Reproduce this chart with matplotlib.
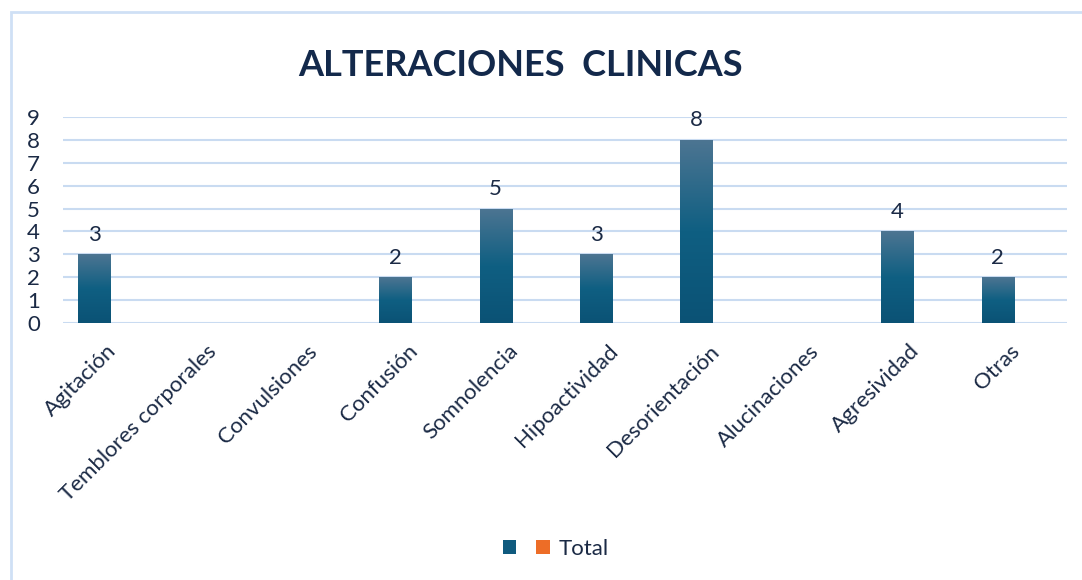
import numpy as np
import matplotlib
matplotlib.use("Agg")
import matplotlib.pyplot as plt
from matplotlib.patches import Rectangle, Patch
from matplotlib.colors import LinearSegmentedColormap

categories = ["Agitación", "Temblores corporales", "Convulsiones", "Confusión",
              "Somnolencia", "Hipoactividad", "Desorientación", "Alucinaciones",
              "Agresividad", "Otras"]
values = [3, 0, 0, 2, 5, 3, 8, 0, 4, 2]
second_series = [0, 0, 0, 0, 0, 0, 0, 0, 0, 0]
yticks = [0, 1, 2, 3, 4, 5, 6, 7, 8, 9]
title = "ALTERACIONES  CLINICAS"
legend_labels = ["", "Total"]

plt.rcParams['font.family'] = ['Lato', 'DejaVu Sans']
text_color = "#1b2a45"
grid_color = "#c9dbf1"

W, H = 1082, 580
fig = plt.figure(figsize=(W / 100, H / 100), dpi=100)
ax = fig.add_axes([63 / W, (H - 323) / H, (1067 - 63) / W, (323 - 117) / H])

x = np.arange(len(categories))
bw = 0.32
bars = ax.bar(x - bw / 2 - 0.03, values, width=bw, color="none", zorder=3)
ax.bar(x + bw / 2 - 0.03, second_series, width=bw, color="#ed6d27", zorder=3)

cmap = LinearSegmentedColormap.from_list("g", ["#0b5275", "#0f5f82", "#4d7592"])
grad = np.linspace(0, 1, 256).reshape(-1, 1)
for b, v in zip(bars, values):
    if v <= 0:
        continue
    x0 = b.get_x()
    im = ax.imshow(grad, extent=[x0, x0 + b.get_width(), 0, v], origin="lower",
                   cmap=cmap, aspect="auto", zorder=3)
    im.set_clip_path(b)
    ax.annotate(str(v), (x0 + b.get_width() / 2, v), xytext=(0, 7),
                textcoords="offset points", ha="center", va="bottom",
                fontsize=16, color=text_color)
ax.set_xlim(-0.5, len(categories) - 0.5)
ax.set_ylim(0, 9)

ax.set_yticks(yticks)
ax.set_yticklabels([str(t) for t in yticks], fontsize=16, color=text_color)
ax.set_xticks(x)
ax.set_xticklabels(categories, rotation=45, ha="right", va="center",
                   rotation_mode="anchor", fontsize=16, color=text_color)
ax.tick_params(axis="both", length=0)
ax.tick_params(axis="y", pad=26)
ax.tick_params(axis="x", pad=18)
for lab in ax.get_yticklabels():
    lab.set_horizontalalignment("left")
ax.yaxis.grid(True, color=grid_color, linewidth=1.5, zorder=0)
ax.set_axisbelow(True)
for s in ax.spines.values():
    s.set_visible(False)

fig.text(521 / W, 1 - 66 / H, title, ha="center", va="center", fontsize=26,
         fontweight="bold", color="#13294b")

handles = [Patch(facecolor="#0f5a7e"), Patch(facecolor="#ed6d27")]
fig.legend(handles, legend_labels, loc="center", bbox_to_anchor=(556 / W, 1 - 549 / H),
           ncol=2, frameon=False, fontsize=16, handlelength=0.6, handleheight=0.6,
           columnspacing=0.5, handletextpad=0.4, labelcolor=text_color)

fig.add_artist(Rectangle((11 / W, -0.1), 1.2, 1.1 - 12 / H, transform=fig.transFigure,
                         facecolor="none", edgecolor="#cfe0f5", linewidth=2))

fig.savefig("out.png", dpi=100)
